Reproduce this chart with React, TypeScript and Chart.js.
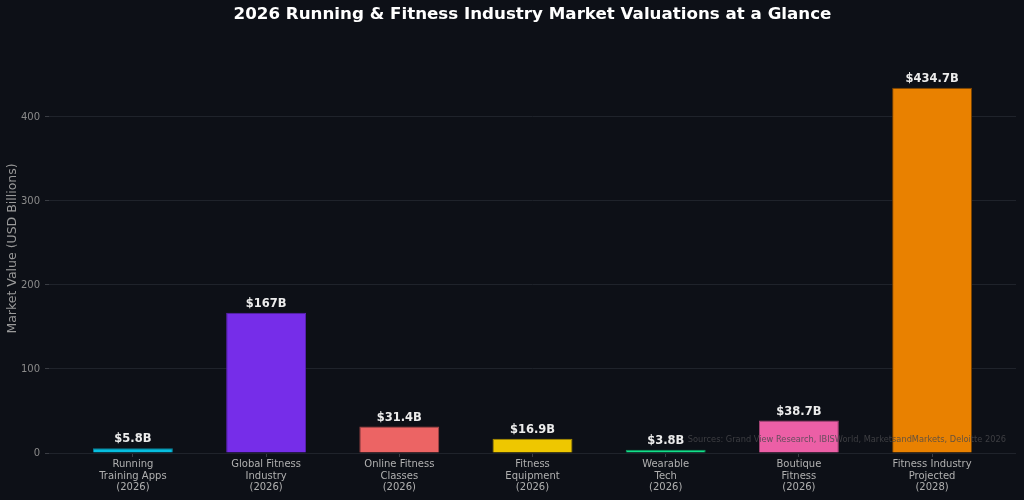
import React, { useEffect, useRef } from "react";
import { Chart, registerables } from "chart.js";

Chart.register(...registerables);

const categories: string[][] = [
  ["Running", "Training Apps", "(2026)"],
  ["Global Fitness", "Industry", "(2026)"],
  ["Online Fitness", "Classes", "(2026)"],
  ["Fitness", "Equipment", "(2026)"],
  ["Wearable", "Tech", "(2026)"],
  ["Boutique", "Fitness", "(2026)"],
  ["Fitness Industry", "Projected", "(2028)"],
];
const values: number[] = [5.8, 167, 31.4, 16.9, 3.8, 38.7, 434.7];
const valueLabels: string[] = ["$5.8B", "$167B", "$31.4B", "$16.9B", "$3.8B", "$38.7B", "$434.7B"];
const barColors: string[] = ["#06bfe0", "#762de9", "#ec6464", "#eec700", "#12e08a", "#ec5fa6", "#e98100"];
const borderColors: string[] = ["#0a7f95", "#5a22b3", "#a84646", "#a88c00", "#0c9a60", "#a84477", "#7a4300"];
const yTicks: number[] = [0, 100, 200, 300, 400];

const TITLE = "2026 Running & Fitness Industry Market Valuations at a Glance";
const SOURCE = "Sources: Grand View Research, IBISWorld, MarketsandMarkets, Deloitte 2026";
const FONT = "'DejaVu Sans', sans-serif";
const BG = "#0d1017";

export default function App() {
  const ref = useRef<HTMLCanvasElement>(null);
  useEffect(() => {
    if (!ref.current) return;
    const dataMax = Math.max(...values);
    const overlay = {
      id: "overlay",
      beforeDraw(chart: any) {
        const ctx = chart.ctx;
        ctx.save();
        ctx.fillStyle = BG;
        ctx.fillRect(0, 0, chart.width, chart.height);
        ctx.restore();
      },
      afterDraw(chart: any) {
        const ctx = chart.ctx;
        const meta = chart.getDatasetMeta(0);
        ctx.save();
        ctx.fillStyle = "#ececec";
        ctx.font = `bold 11.5px ${FONT}`;
        ctx.textAlign = "center";
        ctx.textBaseline = "bottom";
        meta.data.forEach((bar: any, i: number) => {
          ctx.fillText(valueLabels[i], bar.x, bar.y - 3);
        });
        ctx.fillStyle = "#ffffff";
        ctx.font = `bold 16.7px ${FONT}`;
        ctx.textBaseline = "middle";
        const ca = chart.chartArea;
        ctx.fillText(TITLE, (ca.left + ca.right) / 2, 15);
        ctx.font = `8.25px ${FONT}`;
        ctx.fillStyle = "rgba(72,72,76,0.82)";
        ctx.textAlign = "right";
        ctx.fillText(SOURCE, 1006, 440);
        ctx.restore();
      },
    };
    const chart = new Chart(ref.current, {
      type: "bar",
      data: {
        datasets: [
          {
            data: values.map((v, i) => ({ x: i, y: v })),
            backgroundColor: barColors,
            borderColor: borderColors,
            borderWidth: 1,
            barPercentage: 0.6,
            categoryPercentage: 1,
          },
        ],
      },
      options: {
        animation: false,
        responsive: false,
        maintainAspectRatio: false,
        layout: { padding: { top: 44, right: 8, left: 0, bottom: 0 } },
        plugins: { legend: { display: false }, tooltip: { enabled: false }, title: { display: false } },
        scales: {
          x: {
            type: "linear",
            min: -0.63,
            max: 6.63,
            offset: false,
            border: { display: false },
            grid: { offset: false, drawOnChartArea: false, drawTicks: true, tickLength: 4, tickColor: "#3a3d44" },
            afterBuildTicks: (scale: any) => {
              scale.ticks = categories.map((_, i) => ({ value: i }));
            },
            afterFit: (scale: any) => {
              scale.height = 47;
            },
            ticks: {
              autoSkip: false,
              maxRotation: 0,
              padding: 2,
              color: "#b0b0b0",
              font: { family: FONT, size: 10, lineHeight: 1.15 },
              callback: (v: any) => categories[Math.round(Number(v))] ?? "",
            },
          },
          y: {
            min: 0,
            max: dataMax * 1.12,
            border: { display: false },
            grid: { color: "#1f232b", lineWidth: 1, tickLength: 4, tickColor: "#3a3d44" },
            afterBuildTicks: (scale: any) => {
              scale.ticks = yTicks.map((v) => ({ value: v }));
            },
            afterFit: (scale: any) => {
              scale.width = 49;
            },
            ticks: {
              padding: 5,
              color: "#8a8a8a",
              font: { family: FONT, size: 10 },
            },
            title: {
              display: true,
              text: "Market Value (USD Billions)",
              color: "#9a9a9a",
              font: { family: FONT, size: 12.5 },
              padding: { top: 5, bottom: 0 },
            },
          },
        },
      },
      plugins: [overlay],
    } as any);
    return () => chart.destroy();
  }, []);
  return (
    <div style={{ position: "fixed", left: 0, top: 0, width: 1024, height: 500, background: BG }}>
      <canvas ref={ref} width={1024} height={500} style={{ display: "block", width: 1024, height: 500 }} />
    </div>
  );
}
